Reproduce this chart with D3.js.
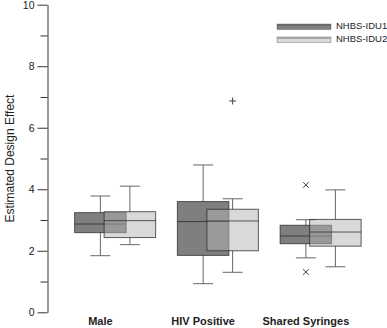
<!DOCTYPE html>
<html>
<head>
<meta charset="utf-8">
<script src="https://cdn.jsdelivr.net/npm/d3@7"></script>
<style>
    body { margin: 0; background: #fff; }
    text { font-family: "Liberation Sans", Arial, sans-serif; fill: #222; }
</style>
</head>
<body>
<div id="chart"></div>
<script>
    // ---------------- data ----------------
    var categories = ['Male', 'HIV Positive', 'Shared Syringes'];
    var series = ['NHBS-IDU1', 'NHBS-IDU2'];
    // [whisker low, q1, median, q3, whisker high]
    var idu1Stats = [[1.84, 2.59, 2.87, 3.24, 3.78],
                     [0.93, 1.85, 2.95, 3.60, 4.79],
                     [1.77, 2.23, 2.48, 2.83, 3.01]];
    var idu2Stats = [[2.20, 2.43, 2.98, 3.27, 4.10],
                     [1.30, 2.00, 2.97, 3.35, 3.69],
                     [1.48, 2.15, 2.61, 3.02, 3.98]];
    var idu1Outliers = [[], [], [4.14, 1.31]];
    var idu2Outliers = [[], [6.87], []];
    var majorTicks = [0, 2, 4, 6, 8, 10];
    var minorTicks = [1, 3, 5, 7, 9];

    // ---------------- svg ----------------
    var width = 387, height = 328;
    var svg = d3.select('#chart').append('svg')
        .attr('width', width)
        .attr('height', height);

    var y = d3.scaleLinear().domain([0, 10]).range([312.3, 4.7]);
    var x = d3.scaleBand().domain(categories).range([49, 357.25]).padding(0);
    var xs = d3.scalePoint().domain(series).range([0, 29.5]);
    var boxW = 51.5, capW = 20;

    var fills = {'NHBS-IDU1': 'rgba(0,0,0,0.5)', 'NHBS-IDU2': 'rgba(179,179,179,0.5)'};
    var marks = {'NHBS-IDU1': 'x', 'NHBS-IDU2': '+'};

    var table = [];
    series.forEach(function (s, si) {
        var st = si === 0 ? idu1Stats : idu2Stats;
        var ou = si === 0 ? idu1Outliers : idu2Outliers;
        categories.forEach(function (c, ci) {
            table.push({cat: c, series: s, v: st[ci], out: ou[ci]});
        });
    });

    function cx(d) { return x(d.cat) + x.bandwidth() / 2 + xs(d.series); }

    // ---------------- axis ----------------
    var axisG = svg.append('g').attr('transform', 'translate(47.5,0)');
    axisG.call(d3.axisLeft(y).tickValues(majorTicks).tickSize(10).tickSizeOuter(0).tickPadding(3)
        .tickFormat(d3.format('d')));
    axisG.selectAll('text').attr('font-size', 10.5).style('font-family', '"Liberation Sans", Arial, sans-serif').attr('fill', '#222');
    axisG.selectAll('line, path').attr('stroke', '#333');
    var minorG = svg.append('g').attr('transform', 'translate(47.5,0)');
    minorG.call(d3.axisLeft(y).tickValues(minorTicks).tickSize(7).tickFormat(''));
    minorG.select('.domain').remove();
    minorG.selectAll('line').attr('stroke', '#333');

    svg.append('text')
        .attr('transform', 'translate(9.5,' + y(5) + ') rotate(-90)')
        .attr('dy', '0.35em')
        .attr('text-anchor', 'middle')
        .attr('font-size', 12)
        .text('Estimated Design Effect');

    // category labels
    svg.selectAll('.cat').data(categories).enter().append('text')
        .attr('x', function (d) { return x(d) + x.bandwidth() / 2; })
        .attr('y', 325)
        .attr('text-anchor', 'middle')
        .attr('font-size', 11)
        .attr('font-weight', 'bold')
        .text(function (d) { return d; });

    // ---------------- boxes ----------------
    series.forEach(function (s) {
        var g = svg.append('g').attr('class', 'series');
        var data = table.filter(function (d) { return d.series === s; });
        var b = g.selectAll('g').data(data).enter().append('g');

        // whisker stems
        b.append('line')
            .attr('x1', cx).attr('x2', cx)
            .attr('y1', function (d) { return y(d.v[0]); })
            .attr('y2', function (d) { return y(d.v[1]); })
            .attr('stroke', '#666');
        b.append('line')
            .attr('x1', cx).attr('x2', cx)
            .attr('y1', function (d) { return y(d.v[3]); })
            .attr('y2', function (d) { return y(d.v[4]); })
            .attr('stroke', '#666');
        // caps
        [0, 4].forEach(function (k) {
            b.append('line')
                .attr('x1', function (d) { return cx(d) - capW / 2; })
                .attr('x2', function (d) { return cx(d) + capW / 2; })
                .attr('y1', function (d) { return y(d.v[k]); })
                .attr('y2', function (d) { return y(d.v[k]); })
                .attr('stroke', '#666');
        });
        // box
        b.append('rect')
            .attr('x', function (d) { return cx(d) - boxW / 2; })
            .attr('width', boxW)
            .attr('y', function (d) { return y(d.v[3]); })
            .attr('height', function (d) { return y(d.v[1]) - y(d.v[3]); })
            .attr('fill', fills[s])
            .attr('stroke', 'rgba(40,40,40,0.75)');
        // median
        b.append('line')
            .attr('x1', function (d) { return cx(d) - boxW / 2; })
            .attr('x2', function (d) { return cx(d) + boxW / 2; })
            .attr('y1', function (d) { return y(d.v[2]); })
            .attr('y2', function (d) { return y(d.v[2]); })
            .attr('stroke', 'rgba(40,40,40,0.75)');
        // outliers
        b.selectAll('path.out').data(function (d) {
            return d.out.map(function (v) { return {x: cx(d), y: y(v)}; });
        }).enter().append('path')
            .attr('class', 'out')
            .attr('d', function (p) {
                var r = marks[s] === '+' ? 3.5 : 2.8;
                if (marks[s] === '+')
                    return 'M' + (p.x - r) + ',' + p.y + 'H' + (p.x + r) + 'M' + p.x + ',' + (p.y - r) + 'V' + (p.y + r);
                return 'M' + (p.x - r) + ',' + (p.y - r) + 'L' + (p.x + r) + ',' + (p.y + r) +
                       'M' + (p.x - r) + ',' + (p.y + r) + 'L' + (p.x + r) + ',' + (p.y - r);
            })
            .attr('stroke', '#444')
            .attr('fill', 'none');
    });

    // ---------------- legend ----------------
    var legend = svg.append('g').attr('transform', 'translate(277,24)');
    var li = legend.selectAll('g').data(series).enter().append('g')
        .attr('transform', function (d, i) { return 'translate(0,' + (i * 13) + ')'; });
    li.append('rect')
        .attr('width', 54).attr('height', 5.5)
        .attr('fill', function (d) { return fills[d]; })
        .attr('stroke', 'rgba(40,40,40,0.5)')
        .attr('stroke-width', 0.6);
    li.append('line')
        .attr('x1', 0).attr('x2', 54).attr('y1', 1).attr('y2', 1)
        .attr('stroke', function (d, i) { return i === 0 ? '#666' : '#999'; })
        .attr('stroke-width', 1.5);
    li.append('text')
        .attr('x', 59).attr('y', 4.5)
        .attr('font-size', 9.5)
        .text(function (d) { return d; });
</script>
</body>
</html>
